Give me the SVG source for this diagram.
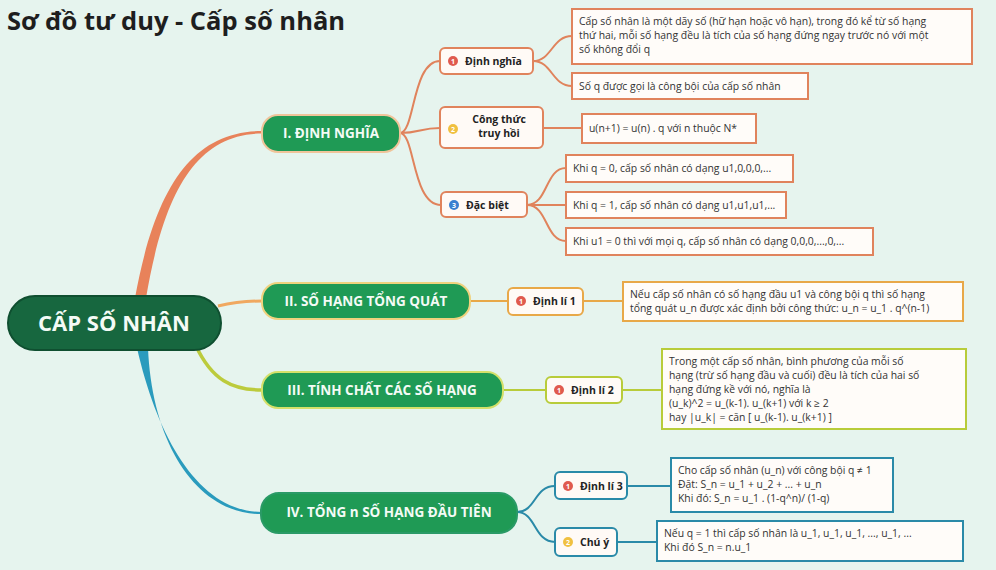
<svg xmlns="http://www.w3.org/2000/svg" width="996" height="570" viewBox="0 0 996 570">
<style>
.bg{fill:#e6f4ee}
.title{font-family:"Open Sans","DejaVu Sans",sans-serif;font-weight:700;font-size:25.5px;fill:#1e1e1e}
.root{fill:#17673f;stroke:#0f4f30;stroke-width:2}
.rootT{font-family:"Open Sans","DejaVu Sans",sans-serif;font-weight:700;font-size:22px;fill:#f4fbf6}
.br{fill:#1f9a55;stroke-width:2}
.brT{font-family:"Open Sans","DejaVu Sans",sans-serif;font-weight:700;font-size:13.5px;fill:#f4fbf6}
.sub{fill:#fffaf6;stroke-width:2}
.subT{font-family:"Open Sans","DejaVu Sans",sans-serif;font-weight:700;font-size:10.5px;fill:#222}
.box{fill:#fffcf9;stroke-width:2}
.txt{font-family:"Open Sans","DejaVu Sans",sans-serif;font-size:10.4px;fill:#333}
.bdg{font-family:"Open Sans","DejaVu Sans",sans-serif;font-weight:700;font-size:7px;fill:#fff}
.c1{stroke:#e0835c}
.c2{stroke:#e8a848}
.c3{stroke:#b8cc3a}
.c4{stroke:#2a8aa8}
.ln{fill:none;stroke-width:2}
</style>
<rect class="bg" x="0" y="0" width="996" height="570"/>
<text class="title" x="7" y="30">Sơ đồ tư duy - Cấp số nhân</text>

<g id="connectors">
  <path d="M135,298 C 155,188 192,131 262,131 L262,133.5 C 196,134 164,192 146,298 Z" fill="#e8825a"/>
  <path d="M218,306 C 235,302 245,301 262,301" fill="none" stroke="#f0a860" stroke-width="3"/>
  <path d="M196,346 C 212,380 232,390 262,390" fill="none" stroke="#bccb3c" stroke-width="3.5"/>
  <path d="M137,348 C 158,440 200,512 262,512 L262,514 C 198,515 152,445 148,348 Z" fill="#2a9bbd"/>
  <path class="ln c1" d="M400,133 C 415,133 412,61 440,61"/>
  <path class="ln c1" d="M400,133 C 420,133 420,128 440,128"/>
  <path class="ln c1" d="M400,133 C 415,133 412,205 441,205"/>
  <path class="ln c1" d="M533,61 C 552,61 552,36 572,36"/>
  <path class="ln c1" d="M533,61 C 552,61 552,86 572,86"/>
  <path class="ln c1" d="M543,128 L582,128"/>
  <path class="ln c1" d="M527,205 C 548,205 545,168 566,168"/>
  <path class="ln c1" d="M527,205 L566,205"/>
  <path class="ln c1" d="M527,205 C 548,205 545,241 566,241"/>
  <path class="ln c2" d="M470,301 L508,301"/>
  <path class="ln c2" d="M583,301 L623,301"/>
  <path class="ln c3" d="M503,390 L546,390"/>
  <path class="ln c3" d="M622,390 L662,390"/>
  <path class="ln c4" d="M517,512 C 536,512 534,486 555,486"/>
  <path class="ln c4" d="M517,512 C 536,512 534,542 555,542"/>
  <path class="ln c4" d="M627,486 L671,486"/>
  <path class="ln c4" d="M617,542 L657,542"/>
</g>

<g id="root">
  <rect class="root" x="8" y="296" width="213" height="54" rx="27"/>
  <text class="rootT" x="114" y="331" text-anchor="middle">CẤP SỐ NHÂN</text>
</g>

<g id="branch1">
  <rect class="br" x="262" y="115" width="138" height="37" rx="16" stroke="#f0c49a"/>
  <text class="brT" x="331" y="138" text-anchor="middle">I. ĐỊNH NGHĨA</text>
</g>
<g id="branch2">
  <rect class="br" x="262" y="283" width="208" height="36" rx="16" stroke="#efd27e"/>
  <text class="brT" x="366" y="306" text-anchor="middle">II. SỐ HẠNG TỔNG QUÁT</text>
</g>
<g id="branch3">
  <rect class="br" x="262" y="372" width="241" height="36" rx="16" stroke="#d4e06a"/>
  <text class="brT" x="382" y="395" text-anchor="middle">III. TÍNH CHẤT CÁC SỐ HẠNG</text>
</g>
<g id="branch4">
  <rect class="br" x="261" y="493" width="256" height="40" rx="18" stroke="#2a9a66"/>
  <text class="brT" x="389" y="517" text-anchor="middle">IV. TỔNG n SỐ HẠNG ĐẦU TIÊN</text>
</g>

<g id="dinh-nghia">
  <rect class="sub c1" x="440" y="48" width="93" height="26" rx="5"/>
  <circle cx="453" cy="61" r="5" fill="#e05a4e"/>
  <text class="bdg" x="453" y="63.5" text-anchor="middle">1</text>
  <text class="subT" x="465" y="65">Định nghĩa</text>
</g>
<g id="cong-thuc">
  <rect class="sub c1" x="440" y="107" width="103" height="41" rx="5"/>
  <circle cx="453" cy="129" r="5" fill="#f0c040"/>
  <text class="bdg" x="453" y="131.5" text-anchor="middle">2</text>
  <text class="subT" x="499" y="123" text-anchor="middle">Công thức</text>
  <text class="subT" x="499" y="137" text-anchor="middle">truy hồi</text>
</g>
<g id="dac-biet">
  <rect class="sub c1" x="441" y="192" width="86" height="25" rx="5"/>
  <circle cx="454" cy="205" r="5" fill="#3a7fd0"/>
  <text class="bdg" x="454" y="207.5" text-anchor="middle">3</text>
  <text class="subT" x="466" y="209">Đặc biệt</text>
</g>

<g id="def-box1">
  <rect class="box c1" x="572" y="9" width="400" height="55"/>
  <text class="txt" x="579" y="25">Cấp số nhân là một dãy số (hữ hạn hoặc vô hạn), trong đó kể từ số hạng</text>
  <text class="txt" x="579" y="39">thứ hai, mỗi số hạng đều là tích của số hạng đứng ngay trước nó với một</text>
  <text class="txt" x="579" y="53">số không đổi q</text>
</g>
<g id="def-box2">
  <rect class="box c1" x="572" y="73" width="236" height="26"/>
  <text class="txt" x="579" y="90">Số q được gọi là công bội của cấp số nhân</text>
</g>
<g id="cong-thuc-box">
  <rect class="box c1" x="582" y="114" width="174" height="29"/>
  <text class="txt" x="589" y="132">u(n+1) = u(n) . q với n thuộc N*</text>
</g>
<g id="dac-biet-box1">
  <rect class="box c1" x="566" y="155" width="227" height="27"/>
  <text class="txt" x="573" y="172">Khi q = 0, cấp số nhân có dạng u1,0,0,0,...</text>
</g>
<g id="dac-biet-box2">
  <rect class="box c1" x="566" y="192" width="220" height="26"/>
  <text class="txt" x="573" y="209">Khi q = 1, cấp số nhân có dạng u1,u1,u1,...</text>
</g>
<g id="dac-biet-box3">
  <rect class="box c1" x="566" y="228" width="307" height="27"/>
  <text class="txt" x="573" y="245">Khi u1 = 0 thì với mọi q, cấp số nhân có dạng 0,0,0,...,0,...</text>
</g>

<g id="dinh-li-1">
  <rect class="sub c2" x="508" y="288" width="75" height="27" rx="5"/>
  <circle cx="521" cy="301" r="5" fill="#e05a4e"/>
  <text class="bdg" x="521" y="303.5" text-anchor="middle">1</text>
  <text class="subT" x="533" y="305">Định lí 1</text>
</g>
<g id="dinh-li-1-box">
  <rect class="box c2" x="623" y="282" width="340" height="39"/>
  <text class="txt" x="630" y="298">Nếu cấp số nhân có số hạng đầu u1 và công bội q thì số hạng</text>
  <text class="txt" x="630" y="312">tổng quát u_n được xác định bởi công thức: u_n = u_1 . q^(n-1)</text>
</g>

<g id="dinh-li-2">
  <rect class="sub c3" x="546" y="377" width="76" height="26" rx="5"/>
  <circle cx="559" cy="390" r="5" fill="#e05a4e"/>
  <text class="bdg" x="559" y="392.5" text-anchor="middle">1</text>
  <text class="subT" x="571" y="394">Định lí 2</text>
</g>
<g id="dinh-li-2-box">
  <rect class="box c3" x="662" y="349" width="304" height="80"/>
  <text class="txt" x="669" y="365">Trong một cấp số nhân, bình phương của mỗi số</text>
  <text class="txt" x="669" y="379">hạng (trừ số hạng đầu và cuối) đều là tích của hai số</text>
  <text class="txt" x="669" y="393">hạng đứng kề với nó, nghĩa là</text>
  <text class="txt" x="669" y="407">(u_k)^2 = u_(k-1). u_(k+1) với k ≥ 2</text>
  <text class="txt" x="669" y="421">hay |u_k| = căn [ u_(k-1). u_(k+1) ]</text>
</g>

<g id="dinh-li-3">
  <rect class="sub c4" x="555" y="472" width="72" height="27" rx="5"/>
  <circle cx="568" cy="486" r="5" fill="#e05a4e"/>
  <text class="bdg" x="568" y="488.5" text-anchor="middle">1</text>
  <text class="subT" x="580" y="490">Định lí 3</text>
</g>
<g id="dinh-li-3-box">
  <rect class="box c4" x="671" y="458" width="222" height="54"/>
  <text class="txt" x="678" y="474">Cho cấp số nhân (u_n) với công bội q ≠ 1</text>
  <text class="txt" x="678" y="488">Đặt: S_n = u_1 + u_2 + ... + u_n</text>
  <text class="txt" x="678" y="502">Khi đó: S_n = u_1 . (1-q^n)/ (1-q)</text>
</g>

<g id="chu-y">
  <rect class="sub c4" x="555" y="528" width="62" height="28" rx="5"/>
  <circle cx="568" cy="542" r="5" fill="#f0c040"/>
  <text class="bdg" x="568" y="544.5" text-anchor="middle">2</text>
  <text class="subT" x="580" y="546">Chú ý</text>
</g>
<g id="chu-y-box">
  <rect class="box c4" x="657" y="521" width="306" height="40"/>
  <text class="txt" x="664" y="537">Nếu q = 1 thì cấp số nhân là u_1, u_1, u_1, ..., u_1, ...</text>
  <text class="txt" x="664" y="551">Khi đó S_n = n.u_1</text>
</g>
</svg>
